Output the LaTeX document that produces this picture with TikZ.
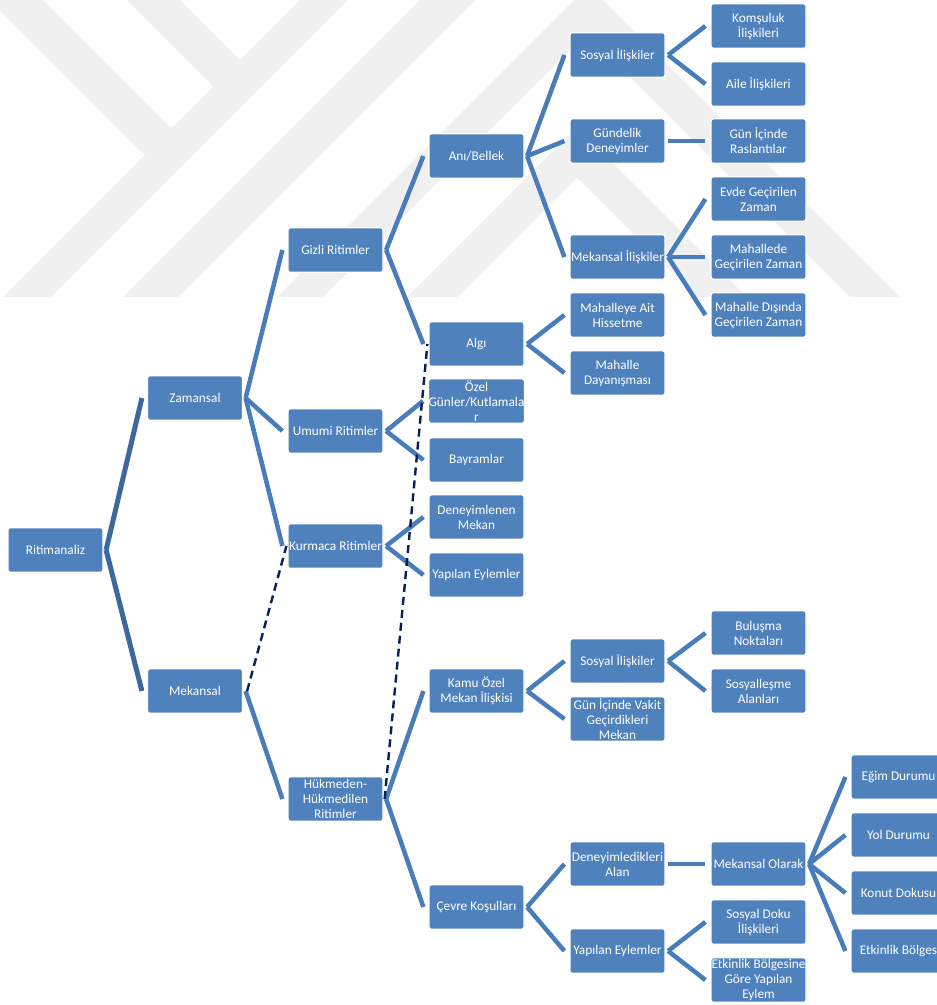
\documentclass[tikz,border=0pt]{standalone}
\usepackage{fontspec}
\setmainfont{Carlito}
\definecolor{boxblue}{RGB}{79,129,189}
\definecolor{linkblue}{RGB}{72,124,186}
\definecolor{trunkblue}{RGB}{60,104,158}
\definecolor{dashnavy}{RGB}{10,30,90}
\definecolor{markgray}{RGB}{240,240,240}
\begin{document}
\begin{tikzpicture}[x=1pt,y=-1pt,
	box/.style={draw=white,line width=1.2pt,fill=boxblue,rounded corners=2.5pt,minimum width=95pt,minimum height=44.5pt,inner sep=0pt,align=center,text=white,font=\fontsize{13.3}{15}\selectfont},
	link/.style={draw=linkblue,line width=4.5pt},
	trunk/.style={draw=trunkblue,line width=5pt},
	dashlink/.style={draw=dashnavy,line width=2.4pt,dash pattern=on 8pt off 5pt}]
	\clip (0,0) rectangle (937,1005);
	\fill[white] (0,0) rectangle (937,1005);
	% watermark
	\fill[markgray] (-10,0)--(43,0)--(171.5,128.5)--(145,155)--cycle;
	\fill[markgray] (127,0)--(180,0)--(240,60)--(213.5,86.5)--cycle;
	\fill[markgray] (300,0)--(348,0)--(51,297)--(3,297)--cycle;
	\fill[markgray] (420,0)--(475,0)--(178,297)--(123,297)--cycle;
	\fill[markgray] (588.5,-14.5)--(900,297)--(850,297)--(586.5,33.5)--(323,297)--(277,297)--cycle;
	\fill[markgray] (577,127)--(747,297)--(697,297)--(577,177)--(457,297)--(407,297)--cycle;
	% level 0-2
	\node[box] (ritim) at (55.5,550) {Ritimanaliz};
	\node[box] (zaman) at (195,398) {Zamansal};
	\node[box] (mekan) at (195,691) {Mekansal};
	\node[box] (gizli) at (335.5,250) {Gizli Ritimler};
	\node[box] (umumi) at (335.5,431) {Umumi Ritimler};
	\node[box] (kurmaca) at (335.5,546) {Kurmaca Ritimler};
	\node[box] (hukmeden) at (335.5,799) {Hükmeden-\\Hükmedilen\\Ritimler};
	% level 3
	\node[box] (ani) at (476.5,156) {Anı/Bellek};
	\node[box] (algi) at (476.5,344) {Algı};
	\node[box] (ozel) at (476.5,401) {Özel\\Günler/Kutlamala\\r};
	\node[box] (bayram) at (476.5,460) {Bayramlar};
	\node[box] (deneyimlenen) at (476.5,517) {Deneyimlenen\\Mekan};
	\node[box] (yapilanA) at (476.5,575) {Yapılan Eylemler};
	\node[box] (kamu) at (476.5,691) {Kamu Özel\\Mekan İlişkisi};
	\node[box] (cevre) at (476.5,907) {Çevre Koşulları};
	% level 4
	\node[box] (sosyalA) at (617.5,55) {Sosyal İlişkiler};
	\node[box] (gundelik) at (617.5,141) {Gündelik\\Deneyimler};
	\node[box] (mekanIl) at (617.5,257) {Mekansal İlişkiler};
	\node[box] (hisset) at (617.5,315) {Mahalleye Ait\\Hissetme};
	\node[box] (dayan) at (617.5,373) {Mahalle\\Dayanışması};
	\node[box] (sosyalB) at (617.5,661) {Sosyal İlişkiler};
	\node[box] (vakit) at (617.5,719) {Gün İçinde Vakit\\Geçirdikleri\\Mekan};
	\node[box] (deneyimledik) at (617.5,864) {Deneyimledikleri\\Alan};
	\node[box] (yapilanB) at (617.5,951) {Yapılan Eylemler};
	% level 5
	\node[box] (komsu) at (758.5,26) {Komşuluk\\İlişkileri};
	\node[box] (aile) at (758.5,84) {Aile İlişkileri};
	\node[box] (raslanti) at (758.5,141) {Gün İçinde\\Raslantılar};
	\node[box] (evde) at (758.5,199) {Evde Geçirilen\\Zaman};
	\node[box] (mahallede) at (758.5,257) {Mahallede\\Geçirilen Zaman};
	\node[box] (disinda) at (758.5,315) {Mahalle Dışında\\Geçirilen Zaman};
	\node[box] (bulusma) at (758.5,633) {Buluşma\\Noktaları};
	\node[box] (sosyallesme) at (758.5,691) {Sosyalleşme\\Alanları};
	\node[box] (mekOlarak) at (758.5,864) {Mekansal Olarak};
	\node[box] (doku) at (758.5,922) {Sosyal Doku\\İlişkileri};
	\node[box] (etkBolge) at (758.5,980) {Etkinlik Bölgesine\\Göre Yapılan\\Eylem};
	% level 6
	\node[box] (egim) at (898.5,777) {Eğim Durumu};
	\node[box] (yol) at (898.5,835) {Yol Durumu};
	\node[box] (konut) at (898.5,893) {Konut Dokusu};
	\node[box] (etkinlik) at (898.5,951) {Etkinlik Bölges};
	% connectors
	\foreach \a/\b in {ritim/zaman,ritim/mekan}
		\draw[trunk] ([xshift=2.5pt]\a.east) -- ([xshift=-5pt]\b.west);
	\foreach \a/\b in {zaman/gizli,zaman/umumi,zaman/kurmaca,mekan/hukmeden,
		gizli/ani,gizli/algi,umumi/ozel,umumi/bayram,kurmaca/deneyimlenen,kurmaca/yapilanA,
		hukmeden/kamu,hukmeden/cevre,ani/sosyalA,ani/gundelik,ani/mekanIl,algi/hisset,algi/dayan,
		kamu/sosyalB,kamu/vakit,cevre/deneyimledik,cevre/yapilanB,
		sosyalA/komsu,sosyalA/aile,gundelik/raslanti,mekanIl/evde,mekanIl/mahallede,mekanIl/disinda,
		sosyalB/bulusma,sosyalB/sosyallesme,deneyimledik/mekOlarak,yapilanB/doku,yapilanB/etkBolge,
		mekOlarak/egim,mekOlarak/yol,mekOlarak/konut,mekOlarak/etkinlik}
		\draw[link] ([xshift=2.5pt]\a.east) -- ([xshift=-5pt]\b.west);
	\draw[dashlink] ([xshift=4pt]mekan.east) -- ([xshift=-1pt]kurmaca.west);
	\draw[dashlink] ([xshift=1pt]hukmeden.east) -- ([xshift=-1pt]algi.west);
\end{tikzpicture}
\end{document}
